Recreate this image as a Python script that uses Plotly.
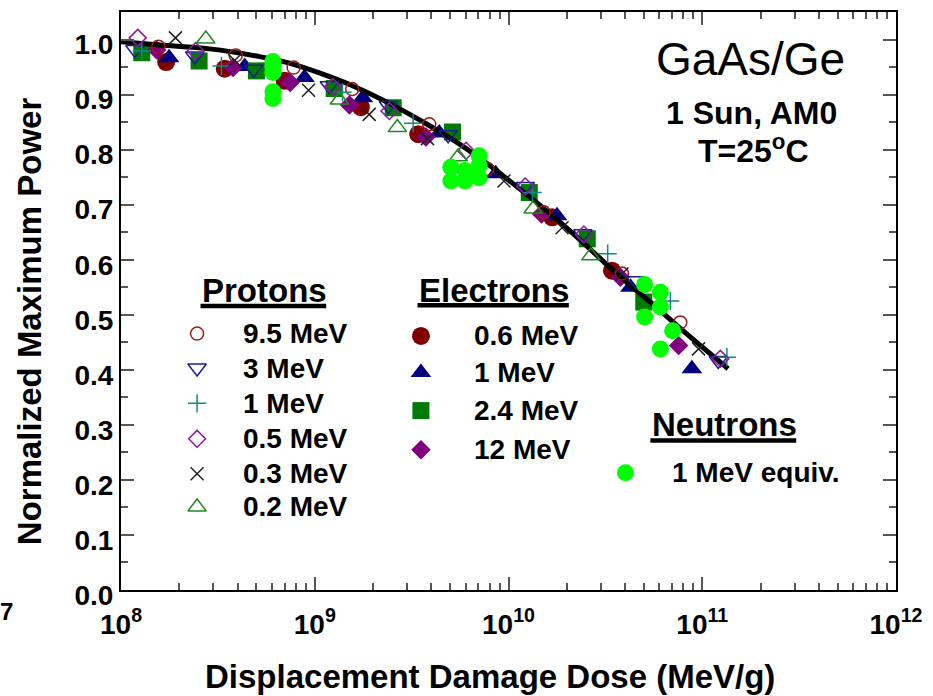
import plotly.graph_objects as go

# fitted characteristic curve
curve_dose = [1.00e8, 1.59e8, 2.87e8, 5.19e8, 7.41e8, 1.10e9, 1.64e9, 2.43e9, 3.59e9,
              5.37e9, 7.94e9, 1.04e10, 1.56e10, 2.31e10, 3.71e10, 5.48e10, 8.20e10, 1.36e11]
curve_power = [0.996, 0.990, 0.983, 0.969, 0.957, 0.937, 0.913, 0.884, 0.851,
               0.814, 0.772, 0.740, 0.690, 0.638, 0.571, 0.521, 0.467, 0.402]

# protons
p95_dose = [1.56e8, 3.91e8, 7.78e8, 1.56e9, 3.90e9, 7.78e9, 1.52e10, 3.85e10, 7.70e10]
p95_power = [0.987, 0.971, 0.949, 0.910, 0.846, 0.765, 0.686, 0.575, 0.486]
p3_dose = [1.18e8, 2.40e8, 4.84e8, 1.19e9, 2.40e9, 4.88e9, 1.22e10, 2.42e10, 4.52e10, 1.21e11]
p3_power = [0.982, 0.970, 0.946, 0.916, 0.880, 0.827, 0.733, 0.647, 0.562, 0.417]
p1_dose = [1.28e8, 3.30e8, 1.39e9, 3.22e9, 1.33e10, 3.25e10, 6.84e10, 1.34e11]
p1_power = [0.979, 0.952, 0.904, 0.848, 0.722, 0.611, 0.525, 0.423]
p05_dose = [1.22e8, 2.43e8, 1.24e9, 2.43e9, 6.04e9, 1.22e10, 2.45e10, 1.24e11]
p05_power = [1.003, 0.979, 0.914, 0.870, 0.798, 0.733, 0.646, 0.420]
p03_dose = [1.91e8, 3.86e8, 9.29e8, 1.91e9, 3.82e9, 9.48e9, 1.89e10, 3.85e10, 9.57e10]
p03_power = [1.003, 0.962, 0.908, 0.864, 0.820, 0.743, 0.658, 0.574, 0.438]
p02_dose = [2.74e8, 1.34e9, 2.67e9, 5.50e9, 1.34e10, 2.66e10]
p02_power = [1.001, 0.890, 0.840, 0.787, 0.692, 0.607]

# electrons
e06_dose = [1.71e8, 3.43e8, 6.99e8, 1.73e9, 3.42e9, 1.68e10, 3.42e10]
e06_power = [0.959, 0.947, 0.925, 0.877, 0.828, 0.677, 0.580]
e1_dose = [1.77e8, 4.35e8, 8.85e8, 1.77e9, 4.39e9, 8.59e9, 1.78e10, 4.26e10, 8.84e10]
e1_power = [0.967, 0.951, 0.931, 0.894, 0.830, 0.756, 0.680, 0.550, 0.402]
e24_dose = [1.28e8, 2.53e8, 5.00e8, 1.26e9, 2.54e9, 5.14e9, 1.28e10, 2.55e10, 4.99e10]
e24_power = [0.976, 0.961, 0.943, 0.911, 0.876, 0.832, 0.722, 0.638, 0.523]
e12_dose = [1.53e8, 3.79e8, 7.47e8, 1.51e9, 3.75e9, 1.48e10, 3.78e10, 7.55e10]
e12_power = [0.981, 0.949, 0.922, 0.881, 0.823, 0.683, 0.568, 0.444]

# neutrons
n_dose = [6.08e8, 6.08e8, 6.08e8, 6.08e8, 6.08e8, 5.04e9, 5.04e9, 5.96e9, 5.96e9,
          7.05e9, 7.05e9, 7.05e9, 5.04e10, 5.04e10, 6.08e10, 6.08e10, 6.08e10, 7.03e10]
n_power = [0.960, 0.950, 0.940, 0.905, 0.893, 0.768, 0.743, 0.762, 0.743,
           0.789, 0.771, 0.749, 0.555, 0.496, 0.541, 0.514, 0.438, 0.471]

proton_labels = ["9.5 MeV", "3 MeV", "1 MeV", "0.5 MeV", "0.3 MeV", "0.2 MeV"]
electron_labels = ["0.6 MeV", "1 MeV", "2.4 MeV", "12 MeV"]
neutron_label = "1 MeV equiv."
x_tick_exponents = [8, 9, 10, 11, 12]

FONT = "Liberation Sans, Arial, sans-serif"
W, H = 933, 696
L, R, T, B = 121, 898, 10, 590  # plot area in pixels


def px(x):
    return (x - L) / (R - L)


def py(y):
    return (B - y) / (B - T)


protons = [
    (p95_dose, p95_power, "circle-open", "#a01818", 13),
    (p3_dose, p3_power, "triangle-down-open", "#1c1c98", 16),
    (p1_dose, p1_power, "cross-thin-open", "#118888", 13),
    (p05_dose, p05_power, "diamond-open", "#8b1a9b", 13),
    (p03_dose, p03_power, "x-thin-open", "#222222", 13),
    (p02_dose, p02_power, "triangle-up-open", "#1e8c1e", 16),
]
electrons = [
    (e06_dose, e06_power, "circle", "#800000", 18),
    (e1_dose, e1_power, "triangle-up", "#000080", 18),
    (e24_dose, e24_power, "square", "#007a00", 17),
    (e12_dose, e12_power, "diamond", "#800080", 15),
]
neutron_color = "#00ff00"

fig = go.Figure()


def marker(sym, col, size):
    if sym.endswith("open"):
        return dict(symbol=sym, size=size, color=col, line=dict(width=1.5, color=col))
    return dict(symbol=sym, size=size, color=col, line=dict(width=0))


for d, p, sym, col, size in electrons:
    fig.add_trace(go.Scatter(x=d, y=p, mode="markers", marker=marker(sym, col, size),
                             showlegend=False))

fig.add_trace(go.Scatter(x=curve_dose, y=curve_power, mode="lines",
                         line=dict(color="black", width=5, shape="spline"),
                         showlegend=False))

for d, p, sym, col, size in protons:
    fig.add_trace(go.Scatter(x=d, y=p, mode="markers", marker=marker(sym, col, size),
                             showlegend=False))

fig.add_trace(go.Scatter(x=n_dose, y=n_power, mode="markers",
                         marker=dict(symbol="circle", size=17, color=neutron_color),
                         showlegend=False))

# hand-made legend keys on an overlay axis in paper fractions
proton_rows = [332.7, 367.3, 402.7, 438.3, 473.3, 506.7]
electron_rows = [335, 371.7, 410, 449.3]
keys = []
for (d, p, sym, col, size), yrow in zip(protons, proton_rows):
    keys.append((197.3, yrow, sym, col, size))
for (d, p, sym, col, size), yrow in zip(electrons, electron_rows):
    keys.append((421.7, yrow, sym, col, size))
keys.append((626.7, 472.3, "circle", neutron_color, 17))
for kx, ky, sym, col, size in keys:
    fig.add_trace(go.Scatter(x=[px(kx)], y=[py(ky)], mode="markers", xaxis="x2", yaxis="y2",
                             marker=marker(sym, col, size), showlegend=False))

annotations = []


def text(x, y, s, size, bold=True, xanchor="left", angle=0):
    annotations.append(dict(x=px(x), y=py(y), xref="paper", yref="paper", text=s,
                            showarrow=False, xanchor=xanchor, yanchor="middle",
                            textangle=angle,
                            font=dict(family=FONT, size=size, color="black",
                                      weight="bold" if bold else "normal")))


text(200, 289, "Protons", 33)
text(418, 289, "Electrons", 33)
text(651, 423.7, "Neutrons", 33)
for lab, yrow in zip(proton_labels, proton_rows):
    text(241, yrow, lab, 28)
for lab, yrow in zip(electron_labels, electron_rows):
    text(473, yrow, lab, 28)
text(671, 472.3, neutron_label, 28)

text(752, 57, "GaAs/Ge", 46, bold=False, xanchor="center")
text(753, 111.3, "1 Sun, AM0", 32, xanchor="center")
text(755, 147.5, "T=25<sup>o</sup>C", 32, xanchor="center")

text(491, 677, "Displacement Damage Dose (MeV/g)", 33, xanchor="center")
text(30, 320, "Normalized Maximum Power", 33, xanchor="center", angle=-90)
text(15, 612, "7", 24, xanchor="right")

shapes = []
for x0, x1, yl in [(200.7, 326.7, 305), (418.3, 570, 304.3), (651.7, 798, 440)]:
    shapes.append(dict(type="line", xref="paper", yref="paper", x0=px(x0), x1=px(x1),
                       y0=py(yl), y1=py(yl), line=dict(color="black", width=4.5)))

tickfont = dict(family=FONT, size=28, color="black", weight="bold")
axis_common = dict(showline=True, linecolor="black", linewidth=2, mirror="ticks",
                   ticks="inside", ticklen=13, tickwidth=1.5, tickcolor="#555555",
                   showgrid=False, zeroline=False, tickfont=tickfont)

fig.update_layout(
    width=W, height=H,
    margin=dict(l=L, r=W - R, t=T, b=H - B),
    paper_bgcolor="white", plot_bgcolor="white",
    showlegend=False,
    xaxis=dict(type="log", range=[8, 12],
               tickvals=[10 ** e for e in x_tick_exponents],
               ticktext=["10<sup>%d</sup>" % e for e in x_tick_exponents],
               ticklabelstandoff=8,
               minor=dict(ticks="inside", ticklen=7, tickwidth=1.5, tickcolor="#555555",
                          dtick="D1", showgrid=False),
               **axis_common),
    yaxis=dict(range=[0, 1.05], dtick=0.1, tickformat=".1f", ticklabelstandoff=0,
               ticklabelshift=5,
               minor=dict(ticks="inside", ticklen=7, tickwidth=1.5, tickcolor="#555555",
                          dtick=0.05, showgrid=False),
               **axis_common),
    xaxis2=dict(overlaying="x", range=[0, 1], visible=False),
    yaxis2=dict(overlaying="y", range=[0, 1], visible=False),
    annotations=annotations,
    shapes=shapes,
)

# page body has a default margin; drop it so the figure sits at the window corner
fig.write_html("out.html", config={"displayModeBar": False},
               post_script="document.body.style.margin='0';")
